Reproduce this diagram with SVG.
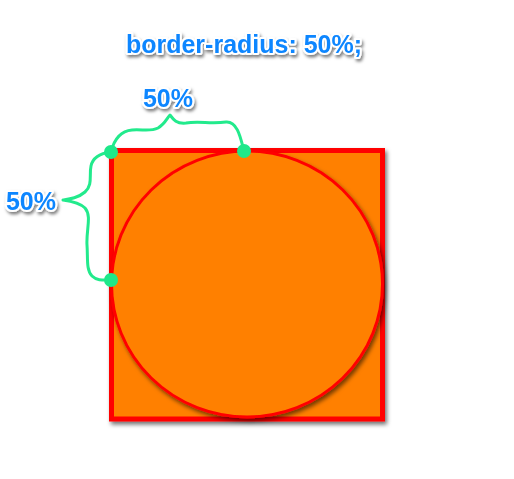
<svg xmlns="http://www.w3.org/2000/svg" width="514" height="479" viewBox="0 0 514 479">
<defs>
<filter id="sh" x="-20%" y="-20%" width="140%" height="140%">
<feDropShadow dx="2" dy="3" stdDeviation="2" flood-color="#000" flood-opacity="0.55"/>
</filter>
<filter id="tsh" x="-20%" y="-40%" width="140%" height="180%">
<feDropShadow dx="1.5" dy="2.5" stdDeviation="1.5" flood-color="#000" flood-opacity="0.5"/>
</filter>
</defs>
<style>
.lbl{font-family:"Liberation Sans",Arial,sans-serif;font-weight:bold;font-size:25px;fill:#0d86ff;stroke:#fff;stroke-width:4px;stroke-linejoin:round;paint-order:stroke;filter:url(#tsh)}
.brace{fill:none;stroke:#22ea8c;stroke-width:3;stroke-linecap:round;stroke-linejoin:round}
.dot{fill:#1ee88a}
</style>
<g id="title"><text class="lbl" x="244" y="53" text-anchor="middle">border-radius: 50%;</text></g>
<g id="square"><rect x="111.5" y="150.5" width="271" height="268.5" fill="#ff8000" stroke="#ff0000" stroke-width="5" filter="url(#sh)"/></g>
<g id="circle"><ellipse cx="247" cy="284" rx="135.5" ry="133" fill="#ff8000" stroke="#ff0000" stroke-width="3" filter="url(#sh)"/></g>
<g id="connectors">
<path class="brace" d="M111,152 C114,140 120,131 132,130 C142,129 150,132 158,128 C165,124 167,118 170,115 C173,119 176,124 186,123 C198,121 212,124 226,122 C238,121 241,140 244,151"/>
<path class="brace" d="M111,152 C103,153 93,156 91,166 C89,175 93,185 85,192 C78,198 70,199 63,200 C70,201 80,203 85,208 C92,216 86,230 87,245 C88,258 86,270 92,276 C97,281 104,280 111,280"/>
</g>
<g id="dots">
<circle class="dot" cx="111" cy="152" r="7"/>
<circle class="dot" cx="244" cy="151" r="7"/>
<circle class="dot" cx="111" cy="280" r="7"/>
</g>
<g id="label-top"><text class="lbl" x="168" y="107" text-anchor="middle">50%</text></g>
<g id="label-left"><text class="lbl" x="31" y="210" text-anchor="middle">50%</text></g>
</svg>
